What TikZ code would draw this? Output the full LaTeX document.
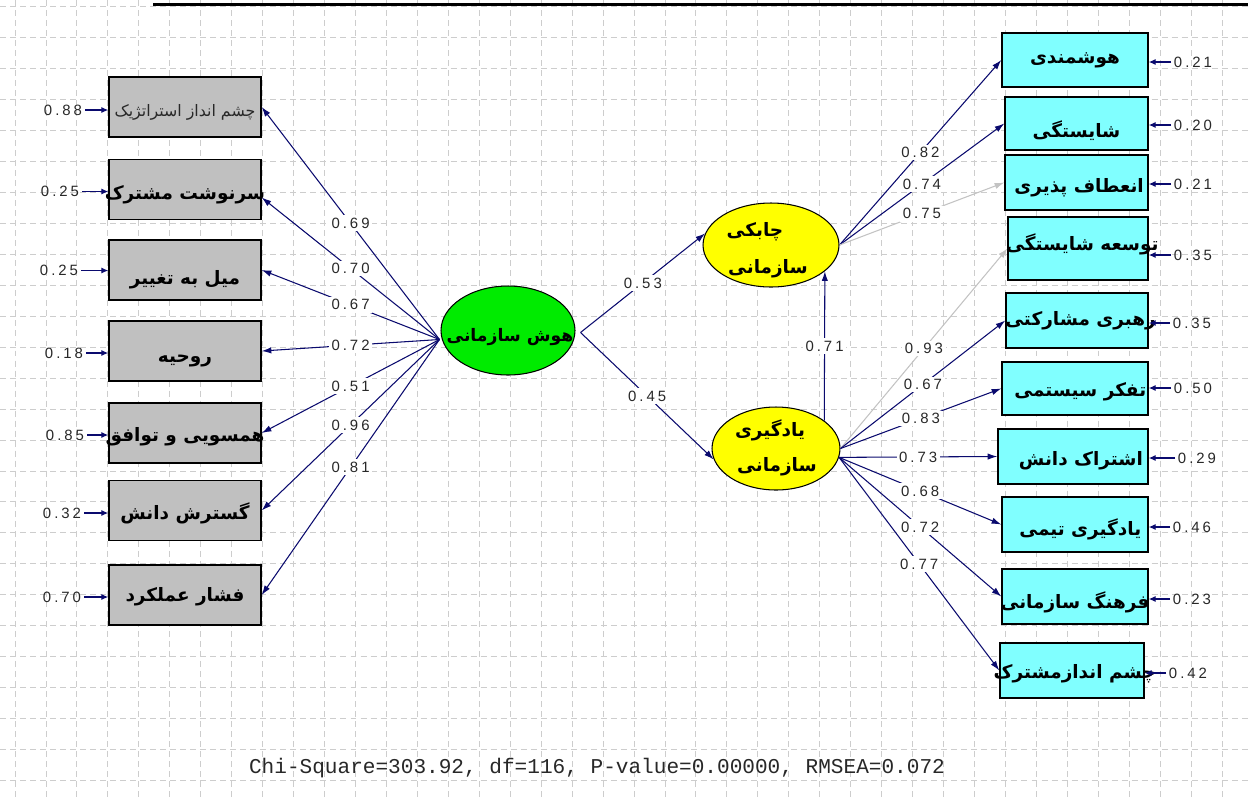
\documentclass[tikz,border=0pt]{standalone}
\usepackage{fontspec}
\usetikzlibrary{shapes.geometric,arrows.meta,calc}
\TeXXeTstate=1
\newfontfamily\fa[Script=Arabic]{DejaVu Sans}
\newfontfamily\numf[LetterSpace=20]{Liberation Sans}
\newfontfamily\monof{Liberation Mono}
\definecolor{boxgray}{RGB}{192,192,192}
\definecolor{boxcyan}{RGB}{128,255,255}
\definecolor{ellyellow}{RGB}{255,255,0}
\definecolor{ellgreen}{RGB}{0,235,0}
\definecolor{pathnavy}{RGB}{10,10,110}
\definecolor{pathgray}{RGB}{195,195,195}
\definecolor{gridgray}{RGB}{205,205,205}
\definecolor{labgray}{RGB}{40,40,40}
\newcommand{\fat}[2][0pt]{\raisebox{#1}[\height][\depth]{\makebox[0pt]{\fa\bfseries\beginR #2\endR}}}
\begin{document}
\begin{tikzpicture}[x=0.02cm,y=-0.02cm,
  gridline/.style={draw=gridgray,line width=0.5pt,dash pattern=on 3.4pt off 2.3pt},
  lbox/.style={draw=black,line width=0.8pt,fill=boxgray,rectangle,inner sep=0pt,
    minimum width=3.04cm,minimum height=1.2cm,font=\fontsize{10.5}{12}\selectfont},
  rbox/.style 2 args={draw=black,line width=0.8pt,fill=boxcyan,rectangle,inner sep=0pt,
    minimum width=#1,minimum height=#2,font=\fontsize{10.5}{12}\selectfont},
  latent/.style={draw=black,line width=0.6pt,ellipse,inner sep=0pt},
  ltext/.style={inner sep=0pt,font=\fontsize{10.5}{12}\selectfont},
  arr/.style={draw=pathnavy,line width=0.6pt,-{Latex[length=5.5pt,width=3.6pt]}},
  garr/.style={draw=pathgray,line width=0.6pt,-{Latex[length=5.5pt,width=3.6pt]}},
  earr/.style={draw=pathnavy,line width=1.1pt,-{Latex[length=4pt,width=3.6pt]}},
  lab/.style={fill=white,inner sep=1.5pt,text=labgray,font=\numf\fontsize{8.5}{10}\selectfont},
  elab/.style={inner sep=1.5pt,text=labgray,font=\numf\fontsize{8.5}{10}\selectfont}]
\useasboundingbox (0,0) rectangle (1248,799);
\fill[white] (0,0) rectangle (1248,799);
% grid
\foreach \k in {0,...,25} \draw[gridline] (0,{6.7+30.95*\k}) -- (1248,{6.7+30.95*\k});
\foreach \k in {0,...,39} \draw[gridline] ({15+30.95*\k},0) -- ({15+30.95*\k},799);
\draw[line width=1.7pt] (153,4) -- (1248,4);

% left observed variables
\node[lbox] (L1) at (185,107) {\raisebox{-2.8pt}[\height][\depth]{\makebox[0pt]{\fa\fontsize{9}{10}\selectfont\color{labgray}\beginR چشم انداز استراتژیک\endR}}};
\node[lbox] (L2) at (185,189.5) {\fat[-2.8pt]{سرنوشت مشترک}};
\node[lbox] (L3) at (185,270) {\fat[-5.7pt]{میل به تغییر}};
\node[lbox] (L4) at (185,351) {\fat[-5.7pt]{روحیه}};
\node[lbox] (L5) at (185,433) {\fat[-2.3pt]{همسویی و توافق}};
\node[lbox] (L6) at (185,510.5) {\fat[-1.7pt]{گسترش دانش}};
\node[lbox] (L7) at (185,595) {\fat[-1.1pt]{فشار عملکرد}};

% left error labels
\node[elab] (el1) at (63,110) {0.88};
\node[elab] (el2) at (60,191.5) {0.25};
\node[elab] (el3) at (59,270.5) {0.25};
\node[elab] (el4) at (64,353) {0.18};
\node[elab] (el5) at (65,435) {0.85};
\node[elab] (el6) at (62,513) {0.32};
\node[elab] (el7) at (62,597) {0.70};
\foreach \i in {1,...,7} \draw[earr] (el\i.east) -- (el\i.east -| L\i.west);

% latent variables
\node[latent,fill=ellgreen,minimum width=2.68cm,minimum height=1.78cm] (G) at (508,330.5) {};
\node[ltext,font=\fontsize{9.8}{12}\selectfont] (Gt) at (510,337) {\fat{هوش سازمانی}};
\node[latent,fill=ellyellow,minimum width=2.72cm,minimum height=1.68cm] (TY) at (771,245) {};
\node[ltext] (TYa) at (755,232) {\fat{چابکی}};
\node[ltext] (TYb) at (768,269) {\fat{سازمانی}};
\node[latent,fill=ellyellow,minimum width=2.56cm,minimum height=1.66cm] (LY) at (776,448.5) {};
\node[ltext] (LYa) at (770,430) {\fat{یادگیری}};
\node[ltext] (LYb) at (777,467) {\fat{سازمانی}};

% right observed variables
\node[rbox={2.92cm}{1.08cm}] (R1) at (1075,60) {\fat{هوشمندی}};
\node[rbox={2.86cm}{1.06cm}] (R2) at (1076.5,123.5) {\fat[-4pt]{شایستگی}};
\node[rbox={2.86cm}{1.10cm}] (R3) at (1076.5,182.5) {\hspace{3pt}\fat[-2.8pt]{انعطاف پذیری}};
\node[rbox={2.80cm}{1.26cm}] (R4) at (1078,248.5) {\hspace{5pt}\fat[2.3pt]{توسعه شایستگی}};
\node[rbox={2.84cm}{1.10cm}] (R5) at (1077,320.5) {\hspace{4pt}\fat{رهبری مشارکتی}};
\node[rbox={2.92cm}{1.06cm}] (R6) at (1075,388.5) {\hspace{6pt}\fat[-1.7pt]{تفکر سیستمی}};
\node[rbox={3.00cm}{1.10cm}] (R7) at (1073,456.5) {\hspace{9pt}\fat[-2.3pt]{اشتراک دانش}};
\node[rbox={2.92cm}{1.10cm}] (R8) at (1075,524.5) {\hspace{6pt}\fat[-2.8pt]{یادگیری تیمی}};
\node[rbox={2.92cm}{1.10cm}] (R9) at (1075,596.5) {\fat[-3.4pt]{فرهنگ سازمانی}};
\node[rbox={2.88cm}{1.10cm}] (R10) at (1072,670.5) {\hspace{3pt}\fat[-1.7pt]{چشم اندازمشترک}};

% right error labels
\node[elab] (er1) at (1193,62) {0.21};
\node[elab] (er2) at (1193,125) {0.20};
\node[elab] (er3) at (1193,184) {0.21};
\node[elab] (er4) at (1193,255) {0.35};
\node[elab] (er5) at (1192,323) {0.35};
\node[elab] (er6) at (1193,388) {0.50};
\node[elab] (er7) at (1197,458) {0.29};
\node[elab] (er8) at (1192,527) {0.46};
\node[elab] (er9) at (1192,599) {0.23};
\node[elab] (er10) at (1188,673) {0.42};
\foreach \i in {1,...,10} \draw[earr] (er\i.west) -- (er\i.west -| R\i.east);

% paths from G to left indicators
\coordinate (gw) at ($(G.west)+(-1,9)$);
\draw[arr] (gw) -- node[lab]{0.69} (L1.east);
\draw[arr] (gw) -- node[lab]{0.70} ($(L2.east)+(0,8)$);
\draw[arr] (gw) -- node[lab]{0.67} (L3.east);
\draw[arr] (gw) -- node[lab]{0.72} (L4.east);
\draw[arr] (gw) -- node[lab]{0.51} (L5.east);
\draw[arr] (gw) -- node[lab]{0.96} (L6.east);
\draw[arr] (gw) -- node[lab]{0.81} (L7.east);

% structural paths
\draw[arr] ($(G.east)+(5,2)$) -- node[lab]{0.53} (TY.170);
\draw[arr] ($(G.east)+(5,2)$) -- node[lab]{0.45} (LY.190);
\draw[arr] (LY.30) -- node[lab]{0.71} (TY.-26);

% TY indicators
\draw[arr] (TY.east) -- node[lab]{0.82} (R1.west);
\draw[arr] (TY.east) -- node[lab]{0.74} (R2.west);
\draw[garr] (TY.east) -- node[lab]{0.75} (R3.west);

% LY indicators
\draw[garr] (LY.east) -- node[lab]{0.93} (R4.west);
\draw[arr] (LY.east) -- node[lab]{0.67} (R5.west);
\draw[arr] (LY.east) -- node[lab]{0.83} (R6.west);
\draw[arr] (LY.-8) -- node[lab]{0.73} (R7.west);
\draw[arr] (LY.-8) -- node[lab]{0.68} (R8.west);
\draw[arr] (LY.-8) -- node[lab]{0.72} (R9.west);
\draw[arr] (LY.-8) -- node[lab]{0.77} (R10.west);

\node[text=labgray,font=\monof\fontsize{12}{14}\selectfont] (fit) at (597,768) {Chi-Square=303.92, df=116, P-value=0.00000, RMSEA=0.072};
\end{tikzpicture}
\end{document}
